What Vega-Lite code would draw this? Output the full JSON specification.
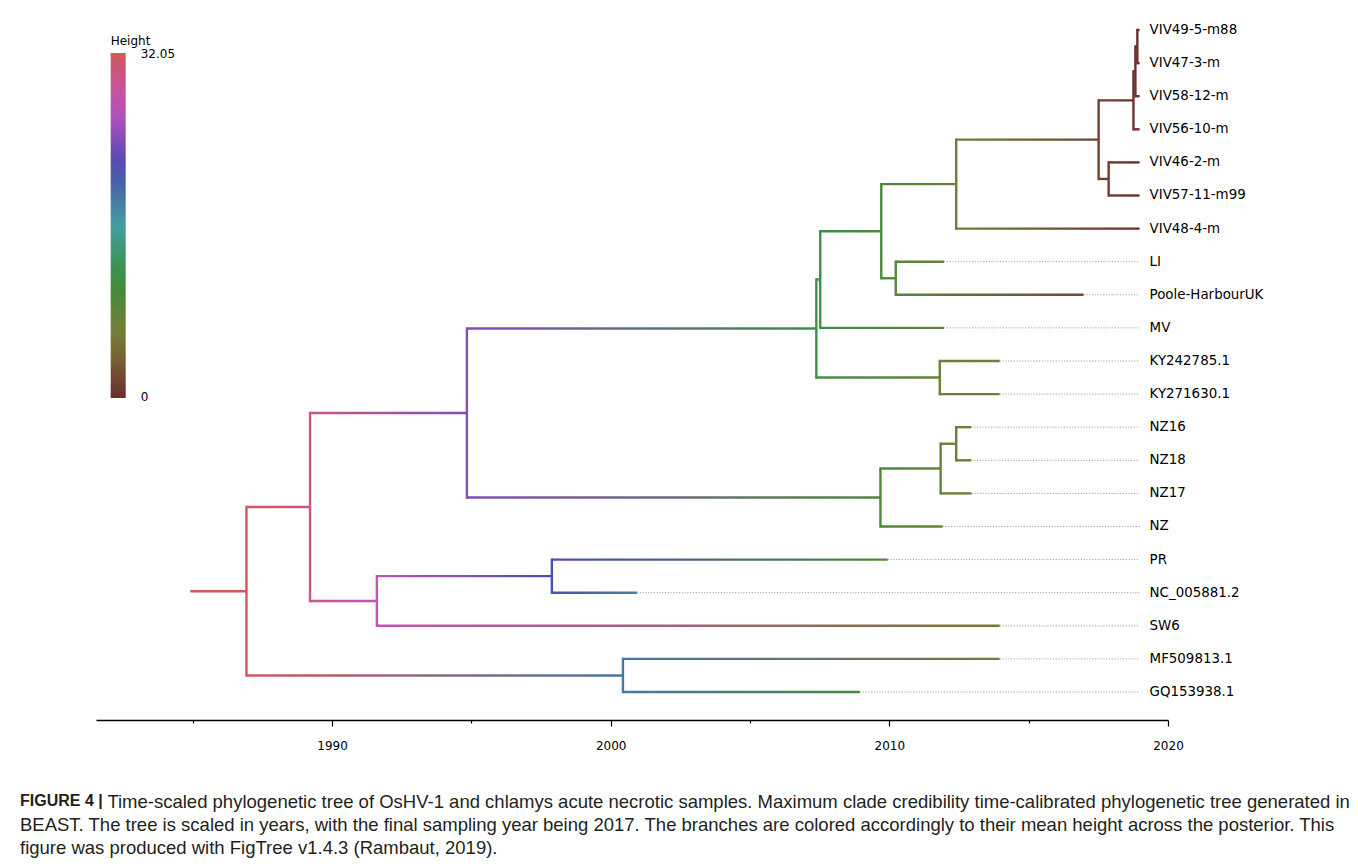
{
  "$schema": "https://vega.github.io/schema/vega-lite/v6.json",
  "width": 1072,
  "height": 700,
  "autosize": {"type": "none"},
  "padding": {"left": 96, "top": 20, "right": 190, "bottom": 146},
  "background": "white",
  "config": {"view": {"stroke": null}, "font": "DejaVu Sans"},
  "title": {
    "text": "FIGURE 4 |",
    "subtitle": [
      "\u200b\u00a0\u00a0\u00a0\u00a0\u00a0\u00a0\u00a0\u00a0\u00a0\u00a0\u00a0\u00a0\u00a0\u00a0\u00a0\u00a0\u00a0Time-scaled phylogenetic tree of OsHV-1 and chlamys acute necrotic samples. Maximum clade credibility time-calibrated phylogenetic tree generated in",
      "BEAST. The tree is scaled in years, with the final sampling year being 2017. The branches are colored accordingly to their mean height across the posterior. This",
      "figure was produced with FigTree v1.4.3 (Rambaut, 2019)."
    ],
    "orient": "bottom",
    "anchor": "start",
    "frame": "group",
    "dx": -76,
    "offset": 42,
    "font": "Liberation Sans",
    "fontSize": 16,
    "fontWeight": "bold",
    "color": "#231f20",
    "subtitleFont": "Liberation Sans",
    "subtitleFontSize": 18.5,
    "subtitleFontWeight": "normal",
    "subtitleColor": "#231f20",
    "subtitleLineHeight": 23,
    "subtitlePadding": -16.5
  },
  "data": {
    "values": [
      {"id": "VIV49-5-m88", "name": "VIV49-5-m88", "year": 2018.98, "height": 0, "y": 0, "py": 2018.9, "ph": 0.08},
      {"id": "VIV47-3-m", "name": "VIV47-3-m", "year": 2018.98, "height": 0, "y": 1, "py": 2018.9, "ph": 0.08},
      {"id": "VIV58-12-m", "name": "VIV58-12-m", "year": 2018.98, "height": 0, "y": 2, "py": 2018.83, "ph": 0.15},
      {"id": "VIV56-10-m", "name": "VIV56-10-m", "year": 2018.98, "height": 0, "y": 3, "py": 2018.76, "ph": 0.22},
      {"id": "VIV46-2-m", "name": "VIV46-2-m", "year": 2018.98, "height": 0, "y": 4, "py": 2017.87, "ph": 1.11},
      {"id": "VIV57-11-m99", "name": "VIV57-11-m99", "year": 2018.98, "height": 0, "y": 5, "py": 2017.87, "ph": 1.11},
      {"id": "VIV48-4-m", "name": "VIV48-4-m", "year": 2018.98, "height": 0, "y": 6, "py": 2012.4, "ph": 6.58},
      {"id": "LI", "name": "LI", "year": 2011.96, "height": 7.02, "y": 7, "py": 2010.23, "ph": 8.75},
      {"id": "Poole-HarbourUK", "name": "Poole-HarbourUK", "year": 2016.97, "height": 2.01, "y": 8, "py": 2010.23, "ph": 8.75},
      {"id": "MV", "name": "MV", "year": 2011.96, "height": 7.02, "y": 9, "py": 2007.52, "ph": 11.46},
      {"id": "KY242785.1", "name": "KY242785.1", "year": 2013.96, "height": 5.02, "y": 10, "py": 2011.81, "ph": 7.17},
      {"id": "KY271630.1", "name": "KY271630.1", "year": 2013.96, "height": 5.02, "y": 11, "py": 2011.81, "ph": 7.17},
      {"id": "NZ16", "name": "NZ16", "year": 2012.94, "height": 6.04, "y": 12, "py": 2012.4, "ph": 6.58},
      {"id": "NZ18", "name": "NZ18", "year": 2012.94, "height": 6.04, "y": 13, "py": 2012.4, "ph": 6.58},
      {"id": "NZ17", "name": "NZ17", "year": 2012.95, "height": 6.03, "y": 14, "py": 2011.84, "ph": 7.14},
      {"id": "NZ", "name": "NZ", "year": 2011.91, "height": 7.07, "y": 15, "py": 2009.68, "ph": 9.3},
      {"id": "PR", "name": "PR", "year": 2009.94, "height": 9.04, "y": 16, "py": 1997.89, "ph": 21.09},
      {"id": "NC_005881.2", "name": "NC_005881.2", "year": 2000.94, "height": 18.04, "y": 17, "py": 1997.89, "ph": 21.09},
      {"id": "SW6", "name": "SW6", "year": 2013.96, "height": 5.02, "y": 18, "py": 1991.61, "ph": 27.37},
      {"id": "MF509813.1", "name": "MF509813.1", "year": 2013.96, "height": 5.02, "y": 19, "py": 2000.44, "ph": 18.54},
      {"id": "GQ153938.1", "name": "GQ153938.1", "year": 2008.94, "height": 10.04, "y": 20, "py": 2000.44, "ph": 18.54},
      {"id": "n14", "year": 2018.9, "height": 0.08, "y": 0.5, "y0": 0, "y1": 1, "py": 2018.83, "ph": 0.15},
      {"id": "n13", "year": 2018.83, "height": 0.15, "y": 1.25, "y0": 0.5, "y1": 2, "py": 2018.76, "ph": 0.22},
      {"id": "n12", "year": 2018.76, "height": 0.22, "y": 2.125, "y0": 1.25, "y1": 3, "py": 2017.51, "ph": 1.47},
      {"id": "n11", "year": 2017.87, "height": 1.11, "y": 4.5, "y0": 4, "y1": 5, "py": 2017.51, "ph": 1.47},
      {"id": "n10", "year": 2017.51, "height": 1.47, "y": 3.3125, "y0": 2.125, "y1": 4.5, "py": 2012.4, "ph": 6.58},
      {"id": "n9", "year": 2012.4, "height": 6.58, "y": 4.656, "y0": 3.3125, "y1": 6, "py": 2009.71, "ph": 9.27},
      {"id": "n15", "year": 2010.23, "height": 8.75, "y": 7.5, "y0": 7, "y1": 8, "py": 2009.71, "ph": 9.27},
      {"id": "n8", "year": 2009.71, "height": 9.27, "y": 6.078, "y0": 4.656, "y1": 7.5, "py": 2007.52, "ph": 11.46},
      {"id": "n7", "year": 2007.52, "height": 11.46, "y": 7.539, "y0": 6.078, "y1": 9, "py": 2007.38, "ph": 11.6},
      {"id": "nK", "year": 2011.81, "height": 7.17, "y": 10.5, "y0": 10, "y1": 11, "py": 2007.38, "ph": 11.6},
      {"id": "n6", "year": 2007.38, "height": 11.6, "y": 9.02, "y0": 7.539, "y1": 10.5, "py": 1994.84, "ph": 24.14},
      {"id": "n18", "year": 2012.4, "height": 6.58, "y": 12.5, "y0": 12, "y1": 13, "py": 2011.84, "ph": 7.14},
      {"id": "n17", "year": 2011.84, "height": 7.14, "y": 13.25, "y0": 12.5, "y1": 14, "py": 2009.68, "ph": 9.3},
      {"id": "n16", "year": 2009.68, "height": 9.3, "y": 14.125, "y0": 13.25, "y1": 15, "py": 1994.84, "ph": 24.14},
      {"id": "n3", "year": 1994.84, "height": 24.14, "y": 11.57, "y0": 9.02, "y1": 14.125, "py": 1989.21, "ph": 29.77},
      {"id": "n5", "year": 1997.89, "height": 21.09, "y": 16.5, "y0": 16, "y1": 17, "py": 1991.61, "ph": 27.37},
      {"id": "n4", "year": 1991.61, "height": 27.37, "y": 17.25, "y0": 16.5, "y1": 18, "py": 1989.21, "ph": 29.77},
      {"id": "n1", "year": 1989.21, "height": 29.77, "y": 14.41, "y0": 11.57, "y1": 17.25, "py": 1986.93, "ph": 32.05},
      {"id": "n2", "year": 2000.44, "height": 18.54, "y": 19.5, "y0": 19, "y1": 20, "py": 1986.93, "ph": 32.05},
      {"id": "root", "year": 1986.93, "height": 32.05, "y": 16.955, "y0": 14.41, "y1": 19.5, "py": 1984.91, "ph": 32.05}
    ]
  },
  "layer": [
    {
      "transform": [{"filter": "isValid(datum.name) && datum.year < 2018.9"}],
      "mark": {"type": "rule", "color": "#a0a0a0", "strokeWidth": 1, "strokeDash": [1.2, 1.6]},
      "encoding": {
        "x": {
          "field": "year",
          "type": "quantitative",
          "scale": {"domain": [1981.53, 2020], "nice": false, "zero": false, "padding": 0},
          "axis": {
            "title": null,
            "grid": false,
            "values": [1985, 1990, 1995, 2000, 2005, 2010, 2015, 2020],
            "format": "d",
            "labelExpr": "datum.value % 10 === 0 ? datum.label : ''",
            "labelFlush": false,
            "domainColor": "#000000",
            "domainWidth": 1.5,
            "tickColor": "#000000",
            "tickWidth": 1.2,
            "tickSize": {"condition": {"test": "datum.value % 10 === 0", "value": 6}, "value": 3},
            "labelFont": "DejaVu Sans",
            "labelFontSize": 12,
            "labelColor": "#000000",
            "labelPadding": 14
          }
        },
        "x2": {"datum": 2018.98},
        "y": {
          "field": "y",
          "type": "quantitative",
          "scale": {"domain": [-0.302, 20.846], "reverse": true, "nice": false, "zero": false, "padding": 0},
          "axis": null
        }
      }
    },
    {
      "mark": {
        "type": "bar",
        "orient": "horizontal",
        "size": 2.4,
        "fill": {"expr": "{gradient: 'linear', x1: 0, y1: 0, x2: 1, y2: 0, stops: [{offset: 0, color: scale('color', datum.ph)}, {offset: 1, color: scale('color', datum.height)}]}"}
      },
      "encoding": {
        "x": {"field": "py", "type": "quantitative"},
        "x2": {"field": "year"},
        "y": {"field": "y", "type": "quantitative"}
      }
    },
    {
      "transform": [{"filter": "isValid(datum.y0)"}],
      "mark": {"type": "rule", "strokeWidth": 2.4, "strokeCap": "square"},
      "encoding": {
        "x": {"field": "year", "type": "quantitative"},
        "y": {"field": "y0", "type": "quantitative"},
        "y2": {"field": "y1"},
        "color": {
          "field": "height",
          "type": "quantitative",
          "scale": {
            "domain": [0, 2.671, 5.342, 8.013, 10.683, 13.354, 16.025, 18.696, 21.367, 24.038, 26.708, 29.379, 32.05],
            "range": ["#6b2d2d", "#745231", "#7c7c34", "#5f8538", "#3b8d3b", "#3f966a", "#429e9e", "#4676a7", "#4a4aaf", "#824db8", "#c051c0", "#c9548f", "#d15858"],
            "interpolate": "rgb"
          },
          "legend": {
            "title": "Height",
            "orient": "none",
            "legendX": 14.7,
            "legendY": 16,
            "direction": "vertical",
            "gradientLength": 345,
            "gradientThickness": 15,
            "values": [0.05, 32.0],
            "labelExpr": "datum.value < 1 ? '0' : '32.05'",
            "titleFont": "DejaVu Sans",
            "titleFontSize": 12,
            "titleFontWeight": "normal",
            "titleColor": "#000000",
            "titlePadding": 5,
            "labelFont": "DejaVu Sans",
            "labelFontSize": 12,
            "labelColor": "#000000",
            "labelOffset": 15,
            "gradientStrokeWidth": 0
          }
        }
      }
    },
    {
      "transform": [{"filter": "isValid(datum.name)"}],
      "mark": {"type": "text", "align": "left", "baseline": "middle", "dx": 10, "font": "DejaVu Sans", "fontSize": 13.4, "color": "#000000"},
      "encoding": {
        "x": {"datum": 2018.98, "type": "quantitative"},
        "y": {"field": "y", "type": "quantitative"},
        "text": {"field": "name"}
      }
    }
  ]
}
